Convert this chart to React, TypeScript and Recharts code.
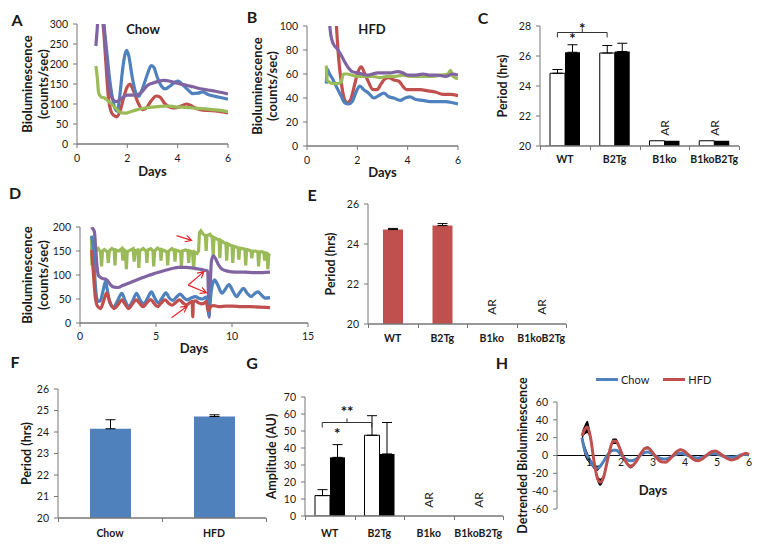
import React from "react";
import {
  LineChart,
  Line,
  BarChart,
  Bar,
  ComposedChart,
  Area,
  XAxis,
  YAxis,
  ErrorBar,
  ReferenceLine,
  ReferenceDot,
} from "recharts";

type Pt = [number, number];

// A - chow diet traces (day, counts/sec)
const chowRed: Pt[] = [[0.77, 350], [0.95, 330], [1.05, 290], [1.15, 200], [1.25, 115], [1.35, 82], [1.45, 72], [1.58, 68], [1.7, 80], [1.85, 115], [2.0, 143], [2.1, 150], [2.25, 132], [2.45, 100], [2.6, 86], [2.75, 90], [2.95, 108], [3.15, 120], [3.3, 117], [3.5, 100], [3.7, 92], [3.9, 90], [4.1, 94], [4.35, 100], [4.5, 97], [4.7, 90], [4.9, 86], [5.2, 84], [5.5, 83], [5.8, 80], [6.0, 78]];
const chowBlue: Pt[] = [[0.77, 350], [1.0, 330], [1.1, 280], [1.2, 220], [1.3, 160], [1.4, 118], [1.5, 90], [1.6, 82], [1.7, 120], [1.8, 180], [1.9, 222], [1.97, 234], [2.05, 222], [2.2, 165], [2.35, 125], [2.45, 119], [2.6, 138], [2.8, 175], [2.95, 196], [3.05, 192], [3.2, 165], [3.35, 145], [3.5, 138], [3.7, 145], [3.9, 155], [4.02, 157], [4.2, 148], [4.4, 136], [4.6, 126], [4.8, 127], [5.0, 130], [5.2, 124], [5.5, 119], [5.8, 115], [6.0, 112]];
const chowGreen: Pt[] = [[0.75, 195], [0.8, 170], [0.86, 128], [0.95, 118], [1.1, 115], [1.3, 104], [1.5, 92], [1.7, 80], [1.9, 77], [2.1, 80], [2.4, 86], [2.7, 90], [3.0, 92], [3.3, 94], [3.6, 95], [3.9, 93], [4.2, 92], [4.5, 91], [4.8, 89], [5.1, 88], [5.4, 86], [5.7, 84], [6.0, 81]];
const chowPurple: Pt[] = [[0.75, 245], [0.8, 285], [0.85, 330], [1.0, 330], [1.1, 270], [1.2, 190], [1.3, 135], [1.42, 112], [1.55, 106], [1.7, 110], [1.85, 118], [2.0, 122], [2.2, 122], [2.4, 123], [2.6, 132], [2.8, 146], [3.0, 152], [3.2, 156], [3.45, 159], [3.7, 157], [3.9, 153], [4.1, 150], [4.35, 147], [4.6, 143], [4.9, 138], [5.2, 135], [5.5, 132], [5.8, 128], [6.0, 125]];

// B - high fat diet traces
const hfdRed: Pt[] = [[1.1, 130], [1.17, 100], [1.25, 75], [1.35, 55], [1.45, 42], [1.58, 36], [1.72, 38], [1.88, 50], [2.03, 62], [2.15, 66], [2.3, 60], [2.45, 53], [2.62, 47], [2.78, 47], [2.95, 52], [3.1, 56], [3.25, 57], [3.45, 55], [3.65, 54], [3.8, 50], [3.95, 47], [4.2, 47], [4.5, 47], [4.8, 46], [5.1, 45], [5.4, 43], [5.7, 43], [6.0, 42]];
const hfdBlue: Pt[] = [[0.77, 52], [0.8, 64], [0.9, 60], [1.04, 55], [1.2, 48], [1.35, 42], [1.5, 36], [1.65, 35], [1.8, 37], [1.95, 45], [2.1, 50], [2.25, 47], [2.45, 44], [2.65, 40], [2.85, 42], [3.05, 44], [3.25, 41], [3.45, 40], [3.7, 38], [3.9, 40], [4.1, 41], [4.3, 39], [4.6, 38], [4.9, 37], [5.2, 37], [5.5, 37], [5.8, 36], [6.0, 35]];
const hfdGreen: Pt[] = [[0.77, 67], [0.8, 55], [0.9, 53], [1.05, 52], [1.2, 52], [1.35, 53], [1.45, 60], [1.6, 60], [1.8, 59], [2.0, 58], [2.3, 58], [2.6, 58], [2.9, 57], [3.2, 58], [3.5, 58], [3.8, 59], [4.1, 58], [4.4, 58], [4.7, 58], [5.0, 58], [5.3, 59], [5.6, 60], [5.7, 63], [5.8, 58], [6.0, 56]];
const hfdPurple: Pt[] = [[0.88, 105], [0.95, 92], [1.05, 85], [1.2, 81], [1.35, 76], [1.5, 70], [1.65, 65], [1.8, 62], [2.0, 61], [2.2, 60], [2.4, 59], [2.6, 60], [2.8, 61], [3.0, 61], [3.3, 61], [3.6, 62], [3.8, 61], [4.0, 59], [4.3, 59], [4.6, 60], [4.9, 59], [5.2, 59], [5.5, 58], [5.8, 60], [6.0, 59]];

// C - period by genotype, white / black bars
const cCats = ["WT", "B2Tg", "B1ko", "B1koB2Tg"];
const cWhite = [24.85, 26.2, 20.35, 20.35];
const cWhiteErr = [0.25, 0.5, 0, 0];
const cBlack = [26.25, 26.3, 20.35, 20.35];
const cBlackErr = [0.5, 0.55, 0, 0];
const cArrhythmic = ["B1ko", "B1koB2Tg"];

// D - long recording
const dGreen: Pt[] = [[0.75, 180], [0.78, 120], [0.82, 165], [0.9, 150], [1.0, 112], [1.05, 150], [1.2, 155], [1.35, 148], [1.42, 118], [1.48, 150], [1.6, 153], [1.8, 148], [1.86, 125], [1.92, 150], [2.1, 155], [2.25, 152], [2.3, 120], [2.36, 152], [2.55, 150], [2.75, 155], [2.82, 130], [2.88, 153], [3.0, 150], [3.05, 112], [3.11, 148], [3.3, 152], [3.5, 155], [3.56, 128], [3.62, 150], [3.8, 152], [3.87, 115], [3.93, 150], [4.15, 155], [4.35, 150], [4.4, 125], [4.46, 152], [4.65, 155], [4.8, 150], [4.85, 118], [4.91, 150], [5.1, 156], [5.28, 152], [5.33, 130], [5.39, 153], [5.6, 150], [5.72, 148], [5.77, 120], [5.83, 150], [6.05, 155], [6.2, 150], [6.25, 128], [6.31, 152], [6.5, 150], [6.62, 148], [6.67, 115], [6.73, 150], [6.95, 152], [7.1, 150], [7.15, 125], [7.21, 150], [7.4, 148], [7.48, 112], [7.54, 148], [7.7, 145], [7.8, 150], [7.86, 188], [7.95, 192], [8.1, 185], [8.25, 182], [8.3, 150], [8.35, 182], [8.55, 185], [8.7, 178], [8.76, 140], [8.82, 178], [9.0, 175], [9.15, 172], [9.2, 135], [9.26, 172], [9.45, 168], [9.6, 165], [9.65, 130], [9.71, 165], [9.9, 162], [10.0, 160], [10.05, 125], [10.11, 160], [10.3, 158], [10.4, 156], [10.45, 132], [10.51, 156], [10.7, 155], [10.85, 153], [10.9, 120], [10.96, 153], [11.1, 152], [11.25, 150], [11.3, 135], [11.36, 150], [11.55, 150], [11.7, 148], [11.75, 118], [11.81, 148], [12.0, 148], [12.1, 145], [12.15, 130], [12.21, 146], [12.3, 145], [12.36, 112], [12.42, 142], [12.5, 140]];
const dPurple: Pt[] = [[0.77, 200], [0.85, 196], [0.95, 190], [1.02, 160], [1.1, 125], [1.2, 100], [1.35, 95], [1.55, 92], [1.75, 90], [2.0, 80], [2.2, 75], [2.5, 74], [2.8, 78], [3.2, 83], [3.6, 88], [4.0, 93], [4.5, 99], [5.0, 104], [5.5, 109], [6.0, 113], [6.5, 116], [7.0, 116], [7.5, 114], [7.9, 112], [8.2, 110], [8.4, 108], [8.45, 60], [8.5, 12], [8.56, 70], [8.65, 130], [8.78, 140], [8.9, 135], [9.1, 122], [9.35, 112], [9.7, 108], [10.2, 106], [10.8, 106], [11.5, 105], [12.0, 105], [12.5, 106]];
const dBlue: Pt[] = [[0.77, 182], [0.86, 160], [0.95, 110], [1.02, 75], [1.1, 52], [1.2, 45], [1.35, 47], [1.5, 65], [1.68, 86], [1.82, 65], [1.97, 42], [2.2, 33], [2.45, 45], [2.75, 62], [2.95, 48], [3.2, 34], [3.45, 45], [3.72, 62], [3.95, 48], [4.2, 40], [4.45, 52], [4.7, 65], [4.92, 52], [5.15, 42], [5.4, 52], [5.65, 63], [5.88, 52], [6.1, 47], [6.35, 54], [6.6, 60], [6.85, 52], [7.05, 48], [7.3, 52], [7.6, 55], [7.85, 51], [8.05, 50], [8.3, 54], [8.4, 40], [8.47, 16], [8.55, 40], [8.65, 70], [8.85, 90], [9.05, 80], [9.35, 62], [9.55, 70], [9.8, 80], [10.05, 67], [10.3, 55], [10.5, 63], [10.75, 72], [11.0, 62], [11.25, 55], [11.45, 60], [11.7, 65], [11.95, 58], [12.2, 52], [12.5, 53]];
const dRed: Pt[] = [[0.77, 152], [0.9, 95], [1.0, 55], [1.15, 35], [1.35, 30], [1.55, 45], [1.75, 63], [1.95, 45], [2.25, 30], [2.5, 38], [2.75, 48], [2.95, 40], [3.2, 30], [3.45, 40], [3.7, 48], [3.9, 42], [4.15, 34], [4.4, 42], [4.65, 49], [4.85, 42], [5.1, 34], [5.35, 42], [5.6, 48], [5.8, 42], [6.05, 37], [6.3, 43], [6.55, 48], [6.78, 42], [7.0, 38], [7.25, 43], [7.38, 45], [7.42, 13], [7.46, 44], [7.6, 46], [7.8, 42], [8.0, 40], [8.2, 42], [8.32, 45], [8.42, 25], [8.5, 28], [8.6, 35], [8.8, 36], [9.2, 34], [9.6, 35], [10.07, 35], [10.6, 34], [11.17, 34], [11.8, 33], [12.5, 32]];
// annotation arrows in D, [fromDay, fromVal, toDay, toVal]
const dArrows = [[6.35, 182, 7.34, 172], [7.12, 79, 8.15, 107], [7.12, 79, 8.32, 63], [6.02, 11, 7.05, 35]];

// E - period, single series
const eCats = ["WT", "B2Tg", "B1ko", "B1koB2Tg"];
const ePeriod = [24.72, 24.92, 0, 0];
const ePeriodErr = [0.06, 0.1, 0, 0];
const eArrhythmic = ["B1ko", "B1koB2Tg"];

// F - period by diet
const fCats = ["Chow", "HFD"];
const fPeriod = [24.15, 24.72];
const fPeriodErr = [0.42, 0.08];

// G - amplitude
const gCats = ["WT", "B2Tg", "B1ko", "B1koB2Tg"];
const gWhite = [12, 47.5, 0, 0];
const gWhiteErr = [3.5, 11.5, 0, 0];
const gBlack = [34.5, 36.5, 0, 0];
const gBlackErr = [7.5, 18.5, 0, 0];
const gArrhythmic = ["B1ko", "B1koB2Tg"];

// H - detrended bioluminescence
const hDays = [0.78, 0.85, 0.95, 1.05, 1.15, 1.25, 1.35, 1.45, 1.55, 1.65, 1.75, 1.85, 1.95, 2.05, 2.15, 2.3, 2.45, 2.6, 2.75, 2.85, 2.95, 3.1, 3.25, 3.4, 3.55, 3.7, 3.85, 3.95, 4.1, 4.25, 4.4, 4.55, 4.7, 4.85, 4.95, 5.1, 5.3, 5.45, 5.6, 5.75, 5.9, 6.0];
const hHfd = [22, 28, 32, 20, -5, -24, -30, -25, -10, 6, 16, 16, 9, 0, -7, -12.5, -8, 1, 8, 8.5, 5, -2, -7, -7.5, -3, 3, 6.5, 5.5, 1, -4, -6, -3.5, 1, 4.5, 5, 2, -3, -5, -3.5, 0, 2.5, 1];
const hHfdSem = [5, 5, 7, 5, 4, 4, 4, 3, 2, 2, 3, 3, 2, 1.5, 1.5, 2, 1.5, 1.5, 1.5, 1.5, 1.5, 1, 1, 1, 1, 1, 1, 1, 1, 1, 1, 1, 1, 1, 1, 1, 1, 1, 1, 1, 1, 1];
const hChow = [20, 8, -1, -7, -12, -14.5, -12, -7, -1, 3.5, 6, 6, 3, -1, -4, -6, -4.5, 0, 3.5, 4, 2.5, -1, -3.5, -4, -2, 1, 2.5, 2, 0, -2, -3, -2, 0.5, 2, 2, 0.5, -1.5, -2, -1.5, 0.5, 1.5, 0.5];
const hChowSem = [4, 6, 5, 3, 3, 3, 2, 1, 1, 1, 1, 1, 1, 1, 1, 1, 1, 1, 1, 1, 1, 1, 1, 1, 1, 1, 1, 1, 1, 1, 1, 1, 1, 1, 1, 1, 1, 1, 1, 1, 1, 1];
const hLegend = [{ name: "Chow", color: "#4f81bd" }, { name: "HFD", color: "#c0504d" }];

const FONT = "Lato, 'Open Sans', 'DejaVu Sans', sans-serif";
const BLUE = "#4f81bd";
const RED = "#c0504d";
const GREEN = "#9bbb59";
const PURPLE = "#8064a2";
const AXIS = "#777777";
const INK = "#1a1a1a";

const tickStyle = { fontSize: 10.5, fill: INK, fontFamily: FONT };
const axisLineStyle = { stroke: AXIS, strokeWidth: 1.4 };

const pts = (a: Pt[]) => a.map(([d, v]) => ({ d, v }));
const errPair = (e: number) => (e ? [0, e] : 0);
const crisp = (v: number) => Math.round(v) + 0.5;

function yTitle(lines: string[], xs: number[], size = 13) {
  return (p: any) => {
    const vb = p.viewBox || {};
    const cy = (vb.y ?? 0) + (vb.height ?? 0) / 2;
    return (
      <g>
        {lines.map((t, i) => (
          <text
            key={t}
            x={xs[i]}
            y={cy}
            transform={`rotate(-90 ${xs[i]} ${cy})`}
            textAnchor="middle"
            dominantBaseline="central"
            fontFamily={FONT}
            fontWeight={700}
            fontSize={size}
            style={{ fill: INK }}
          >
            {t}
          </text>
        ))}
      </g>
    );
  };
}

function xTitle(text: string, dy: number) {
  return (p: any) => {
    const vb = p.viewBox || {};
    return (
      <text
        x={(vb.x ?? 0) + (vb.width ?? 0) / 2}
        y={(vb.y ?? 0) + dy}
        textAnchor="middle"
        dominantBaseline="central"
        fontFamily={FONT}
        fontWeight={700}
        fontSize={13}
        style={{ fill: INK }}
      >
        {text}
      </text>
    );
  };
}

// category tick: bold name, the tick marks on the category borders,
// and (first tick only) the baseline across the whole plot
function catTick(band: number, count: number, gap: number) {
  return (p: any) => {
    const y0 = p.y;
    const lx = p.x - band / 2;
    const borders = p.index === 0 ? Array.from({ length: count + 1 }, (_, i) => crisp(lx + i * band)) : [];
    return (
      <g>
        {p.index === 0 && <path d={`M${lx},${y0}H${lx + count * band}`} stroke={AXIS} strokeWidth={1.4} fill="none" />}
        {borders.map((bx) => (
          <path key={bx} d={`M${bx},${y0}V${y0 + 4}`} stroke={AXIS} strokeWidth={1} fill="none" />
        ))}
        <text x={p.x} y={p.y + gap} textAnchor="middle" dominantBaseline="central" fontFamily={FONT} fontWeight={700} fontSize={10.5} style={{ fill: INK }}>
          {p.payload.value}
        </text>
      </g>
    );
  };
}

const arShape = (p: any) => (
  <text
    x={p.cx}
    y={p.cy}
    transform={`rotate(-90 ${p.cx} ${p.cy})`}
    textAnchor="middle"
    dominantBaseline="central"
    fontFamily={FONT}
    fontSize={12}
    style={{ fill: INK }}
  >
    AR
  </text>
);

const starShape = (stars: string, shift: number) => (p: any) => (
  <text x={p.cx + shift} y={p.cy + 7} textAnchor="middle" fontFamily={FONT} fontWeight={700} fontSize={15} style={{ fill: "#111111", stroke: "none" }}>
    {stars}
  </text>
);

// significance bracket between the two white bars
const bracketShape = (shift: number) => (p: any) => {
  const x1 = p.x1 + shift;
  const x2 = p.x2 + shift;
  const y = crisp(p.y1);
  const mx = (x1 + x2) / 2;
  return <path d={`M${x1},${y + 5}V${y}H${x2}V${y + 5}M${mx},${y}V${y - 4}`} stroke="#333" fill="none" strokeWidth={1} />;
};

const arrowShape = (p: any) => {
  const { x1, y1, x2, y2 } = p;
  const a = Math.atan2(y2 - y1, x2 - x1);
  const h = 7;
  const lx = x2 - h * Math.cos(a - 0.5);
  const ly = y2 - h * Math.sin(a - 0.5);
  const rx = x2 - h * Math.cos(a + 0.5);
  const ry = y2 - h * Math.sin(a + 0.5);
  return (
    <path
      d={`M${x1},${y1}L${x2},${y2}M${lx},${ly}L${x2},${y2}L${rx},${ry}`}
      stroke="#e8262a"
      strokeWidth={1.2}
      fill="none"
    />
  );
};

function Txt({ x, y, children, size = 16, weight = 700 }: any) {
  return (
    <div
      style={{
        position: "absolute",
        left: x,
        top: y,
        transform: "translate(-50%, -50%)",
        fontSize: size,
        fontWeight: weight,
        lineHeight: 1,
        whiteSpace: "nowrap",
        color: INK,
      }}
    >
      {children}
    </div>
  );
}

interface TraceProps {
  series: { data: Pt[]; color: string; curve?: "linear" | "monotone" }[];
  width: number;
  height: number;
  margin: { top: number; right: number; bottom: number; left: number };
  xMax: number;
  xTicks: number[];
  yMax: number;
  yTicks: number[];
  yLabelX: number[];
  daysDy: number;
  tickGap: number;
  arrows?: number[][];
}

function TracePanel({ series, width, height, margin, xMax, xTicks, yMax, yTicks, yLabelX, daysDy, tickGap, arrows }: TraceProps) {
  return (
    <LineChart width={width} height={height} margin={margin}>
      <XAxis
        type="number"
        dataKey="d"
        domain={[0, xMax]}
        ticks={xTicks}
        allowDataOverflow
        height={40}
        tickSize={4}
        tickMargin={tickGap}
        stroke={AXIS}
        axisLine={axisLineStyle}
        tick={tickStyle}
        label={xTitle("Days", daysDy)}
      />
      <YAxis
        type="number"
        domain={[0, yMax]}
        ticks={yTicks}
        allowDataOverflow
        width={50}
        tickSize={4}
        tickMargin={5}
        stroke={AXIS}
        tick={tickStyle}
        label={yTitle(["Bioluminescence", "(counts/sec)"], yLabelX)}
      />
      {series.map((s, i) => (
        <Line
          key={i}
          data={pts(s.data)}
          dataKey="v"
          type={s.curve ?? "monotone"}
          stroke={s.color}
          strokeWidth={3.2}
          dot={false}
          isAnimationActive={false}
        />
      ))}
      {(arrows || []).map((a, i) => (
        <ReferenceLine
          key={`ar${i}`}
          segment={[{ x: a[0], y: a[1] }, { x: a[2], y: a[3] }]}
          ifOverflow="visible"
          shape={arrowShape}
        />
      ))}
    </LineChart>
  );
}

interface BarSpec {
  key: string;
  err: string;
  fill: string;
  stroke?: string;
}

interface BarProps {
  rows: any[];
  cats: string[];
  bars: BarSpec[];
  width: number;
  height: number;
  margin: { top: number; right: number; bottom: number; left: number };
  yDomain: [number, number];
  yTicks: number[];
  yLabel: string;
  yLabelX: number;
  barSize: number;
  xHeight: number;
  catGap: number;
  children?: React.ReactNode;
}

const plotWidth = (width: number, m: { left: number; right: number }) => width - m.left - m.right - 30;

function BarPanel({ rows, cats, bars, width, height, margin, yDomain, yTicks, yLabel, yLabelX, barSize, xHeight, catGap, children }: BarProps) {
  const band = plotWidth(width, margin) / cats.length;
  return (
    <BarChart width={width} height={height} margin={margin} data={rows} barGap={0} barSize={barSize}>
      <XAxis
        dataKey="cat"
        axisLine={false}
        tickLine={false}
        tickSize={0}
        tickMargin={0}
        height={xHeight}
        tick={catTick(band, cats.length, catGap)}
        interval={0}
      />
      <YAxis
        type="number"
        domain={yDomain}
        ticks={yTicks}
        allowDataOverflow
        width={30}
        tickSize={4}
        tickMargin={5}
        stroke={AXIS}
        tick={tickStyle}
        label={yTitle([yLabel], [yLabelX], 12.5)}
      />
      {bars.map((b) => (
        <Bar key={b.key} dataKey={b.key} fill={b.fill} stroke={b.stroke} strokeWidth={b.stroke ? 1 : 0} isAnimationActive={false}>
          <ErrorBar dataKey={b.err} width={5} stroke="#000" strokeWidth={1} direction="y" />
        </Bar>
      ))}
      {children}
    </BarChart>
  );
}

export default function App() {
  const cRows = cCats.map((cat, i) => ({ cat, w: cWhite[i], we: errPair(cWhiteErr[i]), b: cBlack[i], be: errPair(cBlackErr[i]) }));
  const eRows = eCats.map((cat, i) => ({ cat, p: ePeriod[i], pe: errPair(ePeriodErr[i]) }));
  const fRows = fCats.map((cat, i) => ({ cat, p: fPeriod[i], pe: errPair(fPeriodErr[i]) }));
  const gRows = gCats.map((cat, i) => ({ cat, w: gWhite[i], we: errPair(gWhiteErr[i]), b: gBlack[i], be: errPair(gBlackErr[i]) }));
  const hRows = hDays.map((d, i) => ({
    d,
    hfd: hHfd[i],
    chow: hChow[i],
    hfdBand: [hHfd[i] - hHfdSem[i], hHfd[i] + hHfdSem[i]],
    chowBand: [hChow[i] - hChowSem[i], hChow[i] + hChowSem[i]],
  }));
  const pairBars: BarSpec[] = [
    { key: "w", err: "we", fill: "#ffffff", stroke: "#000" },
    { key: "b", err: "be", fill: "#000000" },
  ];
  const cMargin = { top: 26, right: 11, bottom: 0, left: 30 };
  const gMargin = { top: 27, right: 7, bottom: 0, left: 35 };
  // bracket star sits half a category to the right of the WT white bar
  const cHalf = plotWidth(270, cMargin) / cCats.length / 2;
  const gHalf = plotWidth(270, gMargin) / gCats.length / 2;

  return (
    <div style={{ position: "absolute", left: 0, top: 0, width: 762, height: 548, background: "#fff", fontFamily: FONT, color: INK }}>
      {/* A */}
      <div style={{ position: "absolute", left: 0, top: 0 }}>
        <TracePanel
          series={[
            { data: chowRed, color: RED },
            { data: chowBlue, color: BLUE },
            { data: chowGreen, color: GREEN },
            { data: chowPurple, color: PURPLE },
          ]}
          width={240}
          height={184}
          margin={{ top: 24, right: 12, bottom: 0, left: 27 }}
          xMax={6}
          xTicks={[0, 2, 4, 6]}
          yMax={300}
          yTicks={[0, 50, 100, 150, 200, 250, 300]}
          yLabelX={[27, 43]}
          daysDy={27}
          tickGap={7}
        />
      </div>

      {/* B */}
      <div style={{ position: "absolute", left: 232, top: 0 }}>
        <TracePanel
          series={[
            { data: hfdRed, color: RED },
            { data: hfdBlue, color: BLUE },
            { data: hfdGreen, color: GREEN },
            { data: hfdPurple, color: PURPLE },
          ]}
          width={240}
          height={186}
          margin={{ top: 26, right: 14, bottom: 0, left: 25 }}
          xMax={6}
          xTicks={[0, 2, 4, 6]}
          yMax={100}
          yTicks={[0, 20, 40, 60, 80, 100]}
          yLabelX={[25, 40]}
          daysDy={26}
          tickGap={7}
        />
      </div>

      {/* C */}
      <div style={{ position: "absolute", left: 480, top: 0 }}>
        <BarPanel
          rows={cRows}
          cats={cCats}
          bars={pairBars}
          width={270}
          height={186}
          margin={cMargin}
          yDomain={[20, 28]}
          yTicks={[20, 22, 24, 26, 28]}
          yLabel="Period (hrs)"
          yLabelX={22}
          barSize={15}
          xHeight={40}
          catGap={13}
        >
          <ReferenceLine segment={[{ x: "WT", y: 27.6 }, { x: "B2Tg", y: 27.6 }]} ifOverflow="visible" shape={bracketShape(-7.5)} />
          <ReferenceDot x="WT" y={27.95} ifOverflow="visible" shape={starShape("*", cHalf - 7.5)} />
          <ReferenceDot x="WT" y={27.27} ifOverflow="visible" shape={starShape("*", 7.5)} />
          {cArrhythmic.map((c) => (
            <ReferenceDot key={c} x={c} y={21.2} ifOverflow="visible" shape={arShape} />
          ))}
        </BarPanel>
      </div>

      {/* D */}
      <div style={{ position: "absolute", left: 0, top: 190 }}>
        <TracePanel
          series={[
            { data: dGreen, color: GREEN, curve: "linear" },
            { data: dPurple, color: PURPLE },
            { data: dBlue, color: BLUE },
            { data: dRed, color: RED },
          ]}
          width={320}
          height={173}
          margin={{ top: 37, right: 12, bottom: 0, left: 30 }}
          xMax={15}
          xTicks={[0, 5, 10, 15]}
          yMax={200}
          yTicks={[0, 50, 100, 150, 200]}
          yLabelX={[27, 43]}
          daysDy={25}
          tickGap={6}
          arrows={dArrows}
        />
      </div>

      {/* E */}
      <div style={{ position: "absolute", left: 320, top: 190 }}>
        <BarPanel
          rows={eRows}
          cats={eCats}
          bars={[{ key: "p", err: "pe", fill: RED }]}
          width={260}
          height={174}
          margin={{ top: 14, right: 14, bottom: 0, left: 18 }}
          yDomain={[20, 26]}
          yTicks={[20, 22, 24, 26]}
          yLabel="Period (hrs)"
          yLabelX={10}
          barSize={20}
          xHeight={40}
          catGap={14}
        >
          {eArrhythmic.map((c) => (
            <ReferenceDot key={c} x={c} y={20.85} ifOverflow="visible" shape={arShape} />
          ))}
        </BarPanel>
      </div>

      {/* F */}
      <div style={{ position: "absolute", left: 0, top: 370 }}>
        <BarPanel
          rows={fRows}
          cats={fCats}
          bars={[{ key: "p", err: "pe", fill: BLUE }]}
          width={280}
          height={176}
          margin={{ top: 19, right: 14, bottom: 0, left: 28 }}
          yDomain={[20, 26]}
          yTicks={[20, 21, 22, 23, 24, 25, 26]}
          yLabel="Period (hrs)"
          yLabelX={26}
          barSize={41}
          xHeight={28}
          catGap={15}
        />
      </div>

      {/* G */}
      <div style={{ position: "absolute", left: 240, top: 370 }}>
        <BarPanel
          rows={gRows}
          cats={gCats}
          bars={pairBars}
          width={270}
          height={174}
          margin={gMargin}
          yDomain={[0, 70]}
          yTicks={[0, 10, 20, 30, 40, 50, 60, 70]}
          yLabel="Amplitude (AU)"
          yLabelX={31}
          barSize={15}
          xHeight={28}
          catGap={17}
        >
          <ReferenceLine segment={[{ x: "WT", y: 55.3 }, { x: "B2Tg", y: 55.3 }]} ifOverflow="visible" shape={bracketShape(-7.5)} />
          <ReferenceDot x="WT" y={62.4} ifOverflow="visible" shape={starShape("**", gHalf - 7.5)} />
          <ReferenceDot x="WT" y={49.4} ifOverflow="visible" shape={starShape("*", 7.5)} />
          {gArrhythmic.map((c) => (
            <ReferenceDot key={c} x={c} y={9.4} ifOverflow="visible" shape={arShape} />
          ))}
        </BarPanel>
      </div>

      {/* H */}
      <div style={{ position: "absolute", left: 510, top: 370 }}>
        <ComposedChart width={252} height={176} margin={{ top: 32, right: 13, bottom: 0, left: 17 }} data={hRows}>
          <XAxis
            type="number"
            dataKey="d"
            domain={[0, 6]}
            ticks={[1, 2, 3, 4, 5, 6]}
            axisLine={false}
            tickLine={false}
            tickSize={0}
            tickMargin={0}
            height={37}
            tick={(p: any) => (
              <text x={p.x} y={p.y - 47} textAnchor="middle" dominantBaseline="central" fontFamily={FONT} fontSize={10.5} style={{ fill: INK }}>
                {p.payload.value}
              </text>
            )}
            label={xTitle("Days", -19)}
          />
          <YAxis
            type="number"
            domain={[-60, 60]}
            ticks={[-60, -40, -20, 0, 20, 40, 60]}
            width={30}
            tickSize={4}
            tickMargin={5}
            stroke={AXIS}
            tick={tickStyle}
            label={yTitle(["Detrended Bioluminescence"], [12], 12.5)}
          />
          <ReferenceLine y={0} stroke="#000" strokeWidth={1} />
          <Area dataKey="chowBand" type="monotone" fill="#000" fillOpacity={1} stroke="none" isAnimationActive={false} />
          <Area dataKey="hfdBand" type="monotone" fill="#000" fillOpacity={1} stroke="none" isAnimationActive={false} />
          <Line dataKey="chow" type="monotone" stroke={BLUE} strokeWidth={3} dot={false} isAnimationActive={false} />
          <Line dataKey="hfd" type="monotone" stroke={RED} strokeWidth={3} dot={false} isAnimationActive={false} />
        </ComposedChart>
      </div>
      <div style={{ position: "absolute", left: 596, top: 373, display: "flex", alignItems: "center", fontSize: 11 }}>
        {hLegend.map((l) => (
          <div key={l.name} style={{ display: "flex", alignItems: "center", marginRight: 14 }}>
            <div style={{ width: 22, height: 3, background: l.color, marginRight: 3 }} />
            <span>{l.name}</span>
          </div>
        ))}
      </div>

      {/* panel letters and titles */}
      <Txt x={17} y={20}>A</Txt>
      <Txt x={252} y={17}>B</Txt>
      <Txt x={483} y={18}>C</Txt>
      <Txt x={15} y={193}>D</Txt>
      <Txt x={312} y={195}>E</Txt>
      <Txt x={15} y={362}>F</Txt>
      <Txt x={252} y={363}>G</Txt>
      <Txt x={502} y={363}>H</Txt>
      <Txt x={143} y={29} size={13}>Chow</Txt>
      <Txt x={372} y={29} size={13}>HFD</Txt>
    </div>
  );
}
